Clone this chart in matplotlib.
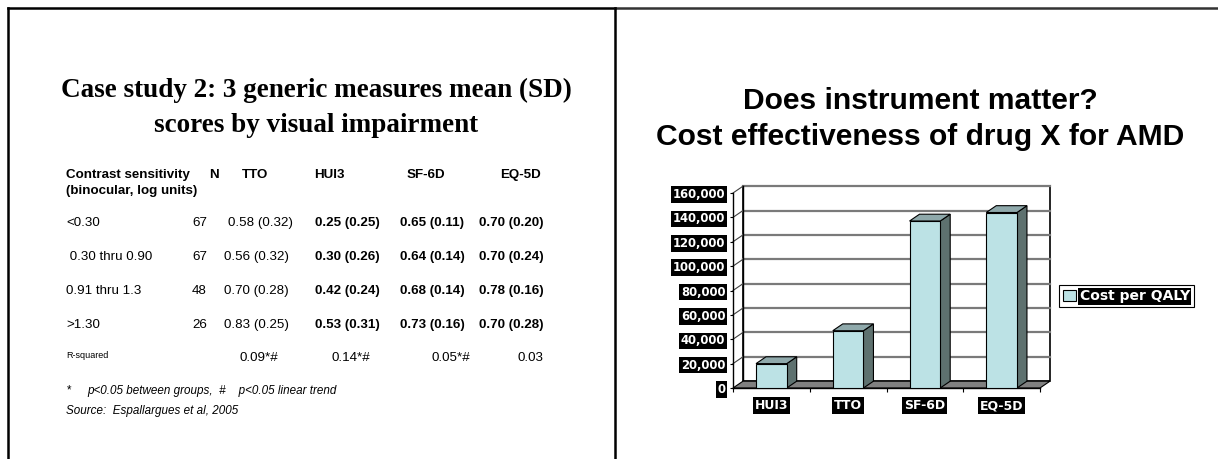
import matplotlib
matplotlib.use("Agg")
import matplotlib.pyplot as plt
from matplotlib.lines import Line2D
from matplotlib.patches import Polygon, Rectangle, Patch

W, H = 1218, 459

# table data (left slide)
row_labels = ["<0.30", " 0.30 thru 0.90", "0.91 thru 1.3", ">1.30"]
n_values = [67, 67, 48, 26]
tto_mean = [0.58, 0.56, 0.70, 0.83]
tto_sd = [0.32, 0.32, 0.28, 0.25]
hui3_mean = [0.25, 0.30, 0.42, 0.53]
hui3_sd = [0.25, 0.26, 0.24, 0.31]
sf6d_mean = [0.65, 0.64, 0.68, 0.73]
sf6d_sd = [0.11, 0.14, 0.14, 0.16]
eq5d_mean = [0.70, 0.70, 0.78, 0.70]
eq5d_sd = [0.20, 0.24, 0.16, 0.28]
r_squared = [0.09, 0.14, 0.05, 0.03]
r_marks = ["*#", "*#", "*#", ""]

# chart data (right slide)
instruments = ["HUI3", "TTO", "SF-6D", "EQ-5D"]
cost_per_qaly = [20000, 47000, 137000, 144000]

front_col = "#BCE2E5"
side_col = "#5E716F"
top_col = "#8FA9AB"
floor_col = "#808080"


def px(x, y):
    return x / W, 1 - y / H


fig = plt.figure(figsize=(W / 100, H / 100), dpi=100)

# slide borders
for xs, ys, c in [([8, 615], [8, 8], "black"), ([615, W], [8, 8], "#333333"),
                  ([8, 8], [8, H], "black"), ([615, 615], [8, H], "black")]:
    fig.add_artist(Line2D([x / W for x in xs], [1 - y / H for y in ys],
                          color=c, lw=1.8, transform=fig.transFigure))

# ---- left slide: table ----
serif = dict(family="Liberation Serif", weight="bold", size=19.5, ha="center", va="center")
fig.text(*px(316, 90), "Case study 2: 3 generic measures mean (SD)", **serif)
fig.text(*px(316, 125), "scores by visual impairment", **serif)

sans = dict(family="Liberation Sans", size=9.6, va="center")
bold = dict(sans, weight="bold")
fig.text(*px(66, 175), "Contrast sensitivity", **bold)
fig.text(*px(66, 191), "(binocular, log units)", **bold)
fig.text(*px(209, 175), "N", **bold)
fig.text(*px(242, 175), "TTO", **bold)
fig.text(*px(314, 175), "HUI3", **bold)
fig.text(*px(407, 175), "SF-6D", **bold)
fig.text(*px(500, 175), "EQ-5D", **bold)

row_y = [223, 257, 291, 325]
for i, y in enumerate(row_y):
    fig.text(*px(66, y), row_labels[i], **sans)
    fig.text(*px(207, y), str(n_values[i]), ha="right", **sans)
    fig.text(*px(228 if i == 0 else 224, y), f"{tto_mean[i]:.2f} ({tto_sd[i]:.2f})", **sans)
    fig.text(*px(315, y), f"{hui3_mean[i]:.2f} ({hui3_sd[i]:.2f})", **bold)
    fig.text(*px(400, y), f"{sf6d_mean[i]:.2f} ({sf6d_sd[i]:.2f})", **bold)
    fig.text(*px(479, y), f"{eq5d_mean[i]:.2f} ({eq5d_sd[i]:.2f})", **bold)

fig.text(*px(66, 356), "R-squared", family="Liberation Sans", size=6.5, va="center")
for xr, v, m in zip([278, 370, 470, 543], r_squared, r_marks):
    fig.text(*px(xr, 358), f"{v:.2f}{m}", ha="right", **sans)

fig.text(*px(67, 390), "*", family="Liberation Sans", size=8.4, va="center")
fig.text(*px(87, 391), "p<0.05 between groups,  #    p<0.05 linear trend",
         family="Liberation Sans", style="italic", size=8.4, va="center")
fig.text(*px(66, 411), "Source:  Espallargues et al, 2005",
         family="Liberation Sans", style="italic", size=8.4, va="center")

# ---- right slide: 3D-look bar chart ----
title = dict(family="Liberation Sans", weight="bold", size=21.6, ha="center", va="center")
fig.text(*px(920, 101), "Does instrument matter?", **title)
fig.text(*px(920, 137), "Cost effectiveness of drug X for AMD", **title)

ax = fig.add_axes([733 / W, 71 / H, 307 / W, 195 / H])
ax.set_xlim(-0.5, 3.5)
ax.set_ylim(0, 160000)
ax.patch.set_visible(False)
ticks = list(range(0, 160001, 20000))
dx, dy = 0.13, 5600
x0, x1 = -0.5, 3.5

# back wall, side wall lines, floor
ax.add_patch(Rectangle((x0 + dx, dy), x1 - x0, 160000, facecolor="white",
                       edgecolor="black", lw=1.2, clip_on=False, zorder=0.5))
for v in ticks[1:]:
    ax.plot([x0 + dx, x1 + dx], [v + dy, v + dy], color="#7a7a7a", lw=1.6,
            clip_on=False, zorder=0.8)
    ax.plot([x0, x0 + dx], [v, v + dy], color="#404040", lw=0.8, clip_on=False, zorder=0.8)
ax.plot([x0 + dx, x0 + dx], [dy, 160000 + dy], color="black", lw=1, clip_on=False, zorder=0.9)
ax.add_patch(Polygon([(x0, 0), (x1, 0), (x1 + dx, dy), (x0 + dx, dy)], closed=True,
                     facecolor=floor_col, edgecolor="black", lw=0.8, clip_on=False, zorder=1))

w = 0.4
xs = list(range(len(instruments)))
for x, v in zip(xs, cost_per_qaly):
    ax.add_patch(Polygon([(x + w / 2, 0), (x + w / 2 + dx, dy), (x + w / 2 + dx, v + dy), (x + w / 2, v)],
                         closed=True, facecolor=side_col, edgecolor="black", lw=0.8,
                         clip_on=False, zorder=2))
    ax.add_patch(Polygon([(x - w / 2, v), (x + w / 2, v), (x + w / 2 + dx, v + dy), (x - w / 2 + dx, v + dy)],
                         closed=True, facecolor=top_col, edgecolor="black", lw=0.8,
                         clip_on=False, zorder=2))
ax.bar(xs, cost_per_qaly, width=w, color=front_col, edgecolor="black", lw=0.8, zorder=3)

for s in ["top", "right"]:
    ax.spines[s].set_visible(False)
ax.spines["left"].set_linewidth(1)
ax.spines["bottom"].set_linewidth(1)

ax.set_yticks(ticks)
ax.set_yticklabels([f"{t:,}" for t in ticks])
ax.tick_params(axis="y", length=2.5, width=0.8, pad=3)
ax.set_xticks(xs)
ax.set_xticklabels(instruments)
ax.set_xticks([x0 + i for i in range(5)], minor=True)
ax.tick_params(axis="x", which="major", length=0, pad=8)
ax.tick_params(axis="x", which="minor", length=3, width=0.8)

for t in ax.get_yticklabels():
    t.set_fontfamily("DejaVu Sans")
    t.set_fontweight("bold")
    t.set_fontsize(8.4)
    t.set_color("white")
    t.set_bbox(dict(boxstyle="square,pad=0.15", facecolor="black", edgecolor="none"))
for t in ax.get_xticklabels():
    t.set_fontfamily("DejaVu Sans")
    t.set_fontweight("bold")
    t.set_fontsize(9)
    t.set_color("white")
    t.set_bbox(dict(boxstyle="square,pad=0.15", facecolor="black", edgecolor="none"))

leg = fig.legend(handles=[Patch(facecolor=front_col, edgecolor="black", lw=0.8, label="Cost per QALY")],
                 loc="upper left", bbox_to_anchor=px(1059, 285), borderaxespad=0,
                 fancybox=False, edgecolor="black", framealpha=1,
                 handlelength=0.9, handleheight=0.9, handletextpad=0.3, borderpad=0.3,
                 prop=dict(family="DejaVu Sans", weight="bold", size=10))
leg.get_frame().set_linewidth(0.8)
for t in leg.get_texts():
    t.set_color("white")
    t.set_bbox(dict(boxstyle="square,pad=0.1", facecolor="black", edgecolor="none"))

plt.savefig("out.png", dpi=100)
